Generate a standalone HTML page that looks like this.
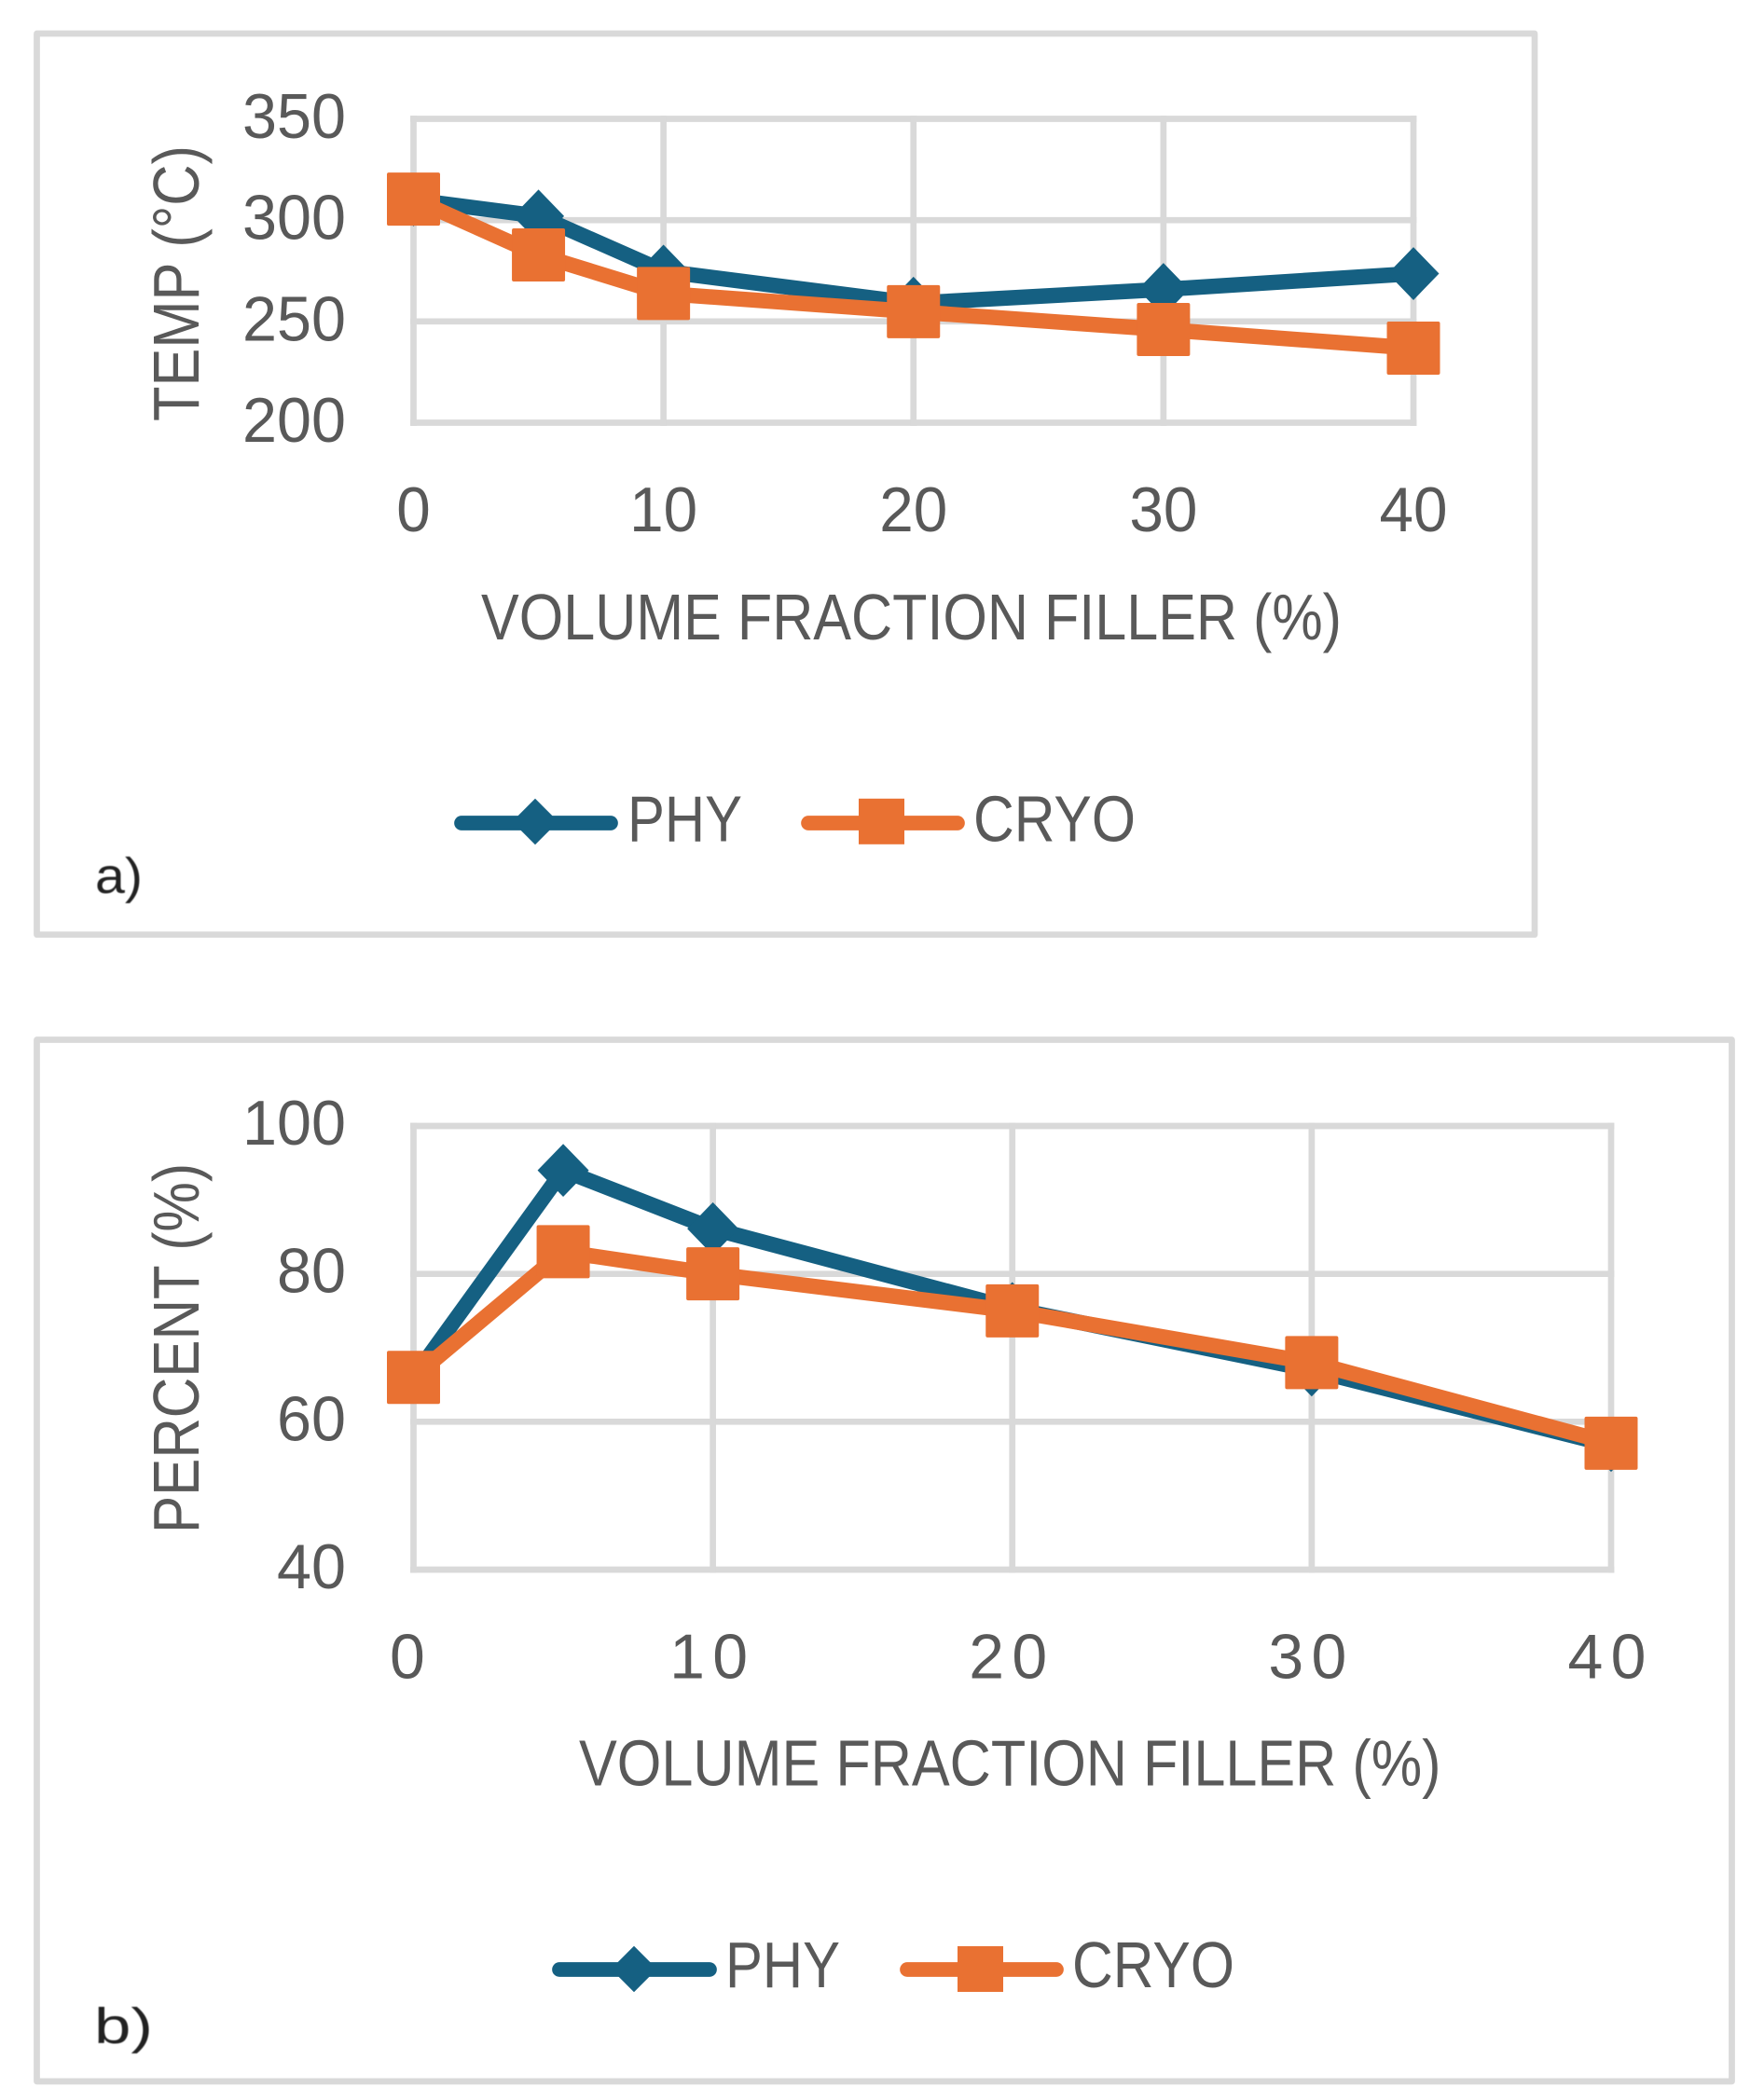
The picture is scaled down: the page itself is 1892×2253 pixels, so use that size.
<!DOCTYPE html>
<html lang="en">
<head>
<meta charset="utf-8">
<title>Temperature and percent versus volume fraction filler</title>
<style>
  html, body { margin: 0; padding: 0; background: #ffffff; }
  svg { display: block; }
  text { font-family: "Liberation Sans", sans-serif; fill: #595959; }
  .tick { font-size: 68px; }
  .axis-title, .legend-label { font-size: 70px; }
  .panel-label { font-size: 54px; fill: #222222; filter: blur(0.6px); }
</style>
</head>
<body>
<svg id="figure" xmlns="http://www.w3.org/2000/svg" width="1892" height="2253" viewBox="0 0 1892 2253">
  <rect x="0" y="0" width="1892" height="2253" fill="#ffffff"/>

  <g id="chart-a">
    <rect x="39.5" y="36" width="1606.5" height="966.7" fill="none" stroke="#d9d9d9" stroke-width="6.7" stroke-linejoin="round"/>
    <g id="chart-a-grid"></g>
    <g id="chart-a-ticks"></g>
    <g id="chart-a-series"></g>
    <text class="axis-title" transform="translate(213,452) rotate(-90)" textLength="296" lengthAdjust="spacingAndGlyphs">TEMP (°C)</text>
    <text class="axis-title" x="516" y="686" textLength="923" lengthAdjust="spacingAndGlyphs">VOLUME FRACTION FILLER (%)</text>
    <g>
      <line x1="495" y1="883" x2="655" y2="883" stroke="#156082" stroke-width="15.7" stroke-linecap="round"/>
      <polygon points="574,856.8 598.7,881.5 574,906.2 549.3,881.5" fill="#156082"/>
      <text class="legend-label" x="673" y="902.7" textLength="123" lengthAdjust="spacingAndGlyphs">PHY</text>
      <line x1="867" y1="883" x2="1027" y2="883" stroke="#e97132" stroke-width="15.7" stroke-linecap="round"/>
      <rect x="921" y="856.8" width="49" height="49" fill="#e97132"/>
      <text class="legend-label" x="1044" y="902.7" textLength="174" lengthAdjust="spacingAndGlyphs">CRYO</text>
    </g>
    <text class="panel-label" x="102" y="958" textLength="51" lengthAdjust="spacingAndGlyphs">a)</text>
  </g>

  <g id="chart-b">
    <rect x="39.5" y="1115.5" width="1818" height="1117.5" fill="none" stroke="#d9d9d9" stroke-width="6.7" stroke-linejoin="round"/>
    <g id="chart-b-grid"></g>
    <g id="chart-b-ticks"></g>
    <g id="chart-b-series"></g>
    <text class="axis-title" transform="translate(213,1645) rotate(-90)" textLength="397" lengthAdjust="spacingAndGlyphs">PERCENT (%)</text>
    <text class="axis-title" x="621" y="1915.5" textLength="924.5" lengthAdjust="spacingAndGlyphs">VOLUME FRACTION FILLER (%)</text>
    <g>
      <line x1="600" y1="2113" x2="761" y2="2113" stroke="#156082" stroke-width="15.7" stroke-linecap="round"/>
      <polygon points="680,2087.8 704.7,2112.5 680,2137.2 655.3,2112.5" fill="#156082"/>
      <text class="legend-label" x="778" y="2132" textLength="123" lengthAdjust="spacingAndGlyphs">PHY</text>
      <line x1="973" y1="2113" x2="1133" y2="2113" stroke="#e97132" stroke-width="15.7" stroke-linecap="round"/>
      <rect x="1027" y="2088" width="49" height="49" fill="#e97132"/>
      <text class="legend-label" x="1150" y="2132" textLength="174" lengthAdjust="spacingAndGlyphs">CRYO</text>
    </g>
    <text class="panel-label" x="101" y="2192" textLength="63" lengthAdjust="spacingAndGlyphs">b)</text>
  </g>
</svg>

<script>
const fillerValues = [0, 5, 10, 20, 30, 40];
const xTickValues = [0, 10, 20, 30, 40];
const tempTicks = [200, 250, 300, 350];
const tempPhy = [310, 302, 274.8, 259, 265.8, 273.6];
const tempCryo = [310.4, 282.8, 263.8, 254.8, 246, 236.8];
const percentTicks = [40, 60, 80, 100];
const percentPhy = [66, 94, 86.1, 75.3, 67, 56.8];
const percentCryo = [66, 83, 80, 75, 68, 57.1];

const SVG_NS = 'http://www.w3.org/2000/svg';
const BLUE = '#156082';
const ORANGE = '#e97132';
const GRID = '#d9d9d9';

function linearScale(d0, d1, r0, r1) {
  return function (v) { return r0 + (v - d0) * (r1 - r0) / (d1 - d0); };
}

function node(tag, attrs, parent) {
  const el = document.createElementNS(SVG_NS, tag);
  Object.keys(attrs).forEach(function (k) { el.setAttribute(k, attrs[k]); });
  parent.appendChild(el);
  return el;
}

function drawGrid(id, xScale, yScale, xTicks, yTicks) {
  const g = document.getElementById(id);
  const yMin = yScale(yTicks[0]);
  const yMax = yScale(yTicks[yTicks.length - 1]);
  const xMin = xScale(xTicks[0]);
  const xMax = xScale(xTicks[xTicks.length - 1]);
  yTicks.forEach(function (t) {
    const line = node('line', { x1: xMin, x2: xMax, y1: yScale(t), y2: yScale(t), stroke: GRID, 'stroke-width': 6.7, 'stroke-linecap': 'square' }, g);
    
    
  });
  xTicks.forEach(function (t) {
    const line = node('line', { x1: xScale(t), x2: xScale(t), y1: yMin, y2: yMax, stroke: GRID, 'stroke-width': 6.7, 'stroke-linecap': 'square' }, g);
    
    
  });
}

function drawTicks(id, xScale, yScale, xTicks, yTicks, o) {
  const g = document.getElementById(id);
  yTicks.forEach(function (t) {
    const label = String(t);
    const w = label.length * o.yCharW;
    const text = node('text', { x: o.yRight - w, y: yScale(t) + o.yDy, textLength: w, lengthAdjust: 'spacingAndGlyphs', class: 'tick' }, g);
    text.textContent = label;
    
    
  });
  xTicks.forEach(function (t) {
    const label = String(t);
    const w = label.length * o.xCharW;
    const text = node('text', { x: xScale(t) + o.xDx - w / 2, y: o.xBase, textLength: w, lengthAdjust: o.xAdjust, class: 'tick' }, g);
    text.textContent = label;
    
    
  });
}

function drawSeries(id, xScale, yScale, xs, ys, color, shape, name) {
  const g = document.getElementById(id);
  const pts = xs.map(function (x, i) { return xScale(x) + ',' + yScale(ys[i]); }).join(' ');
  const line = node('polyline', { points: pts, fill: 'none', stroke: color, 'stroke-width': 16.5, 'stroke-linejoin': 'round' }, g);
  
  
  xs.forEach(function (x, i) {
    const cx = xScale(x);
    const cy = yScale(ys[i]);
    let mark;
    if (shape === 'diamond') {
      const rx = 27.5;
      const ry = 28.4;
      mark = node('polygon', { points: cx + ',' + (cy - ry) + ' ' + (cx + rx) + ',' + cy + ' ' + cx + ',' + (cy + ry) + ' ' + (cx - rx) + ',' + cy, fill: color }, g);
    } else {
      mark = node('rect', { x: cx - 28.5, y: cy - 28.5, width: 57, height: 57, rx: 2, fill: color }, g);
    }
    
    
  });
}

const xA = linearScale(0, 40, 443.5, 1516);
const yA = linearScale(200, 350, 453.5, 127.5);
drawGrid('chart-a-grid', xA, yA, xTickValues, tempTicks);
drawTicks('chart-a-ticks', xA, yA, xTickValues, tempTicks, { yRight: 371, yDy: 20.5, yCharW: 37, xBase: 570, xDx: 0, xCharW: 36.5, xAdjust: 'spacingAndGlyphs' });
drawSeries('chart-a-series', xA, yA, fillerValues, tempPhy, BLUE, 'diamond', 'temp-phy');
drawSeries('chart-a-series', xA, yA, fillerValues, tempCryo, ORANGE, 'square', 'temp-cryo');

const xB = linearScale(0, 40, 443.5, 1728);
const yB = linearScale(40, 100, 1684, 1208);
drawGrid('chart-b-grid', xB, yB, xTickValues, percentTicks);
drawTicks('chart-b-ticks', xB, yB, xTickValues, percentTicks, { yRight: 371, yDy: 20, yCharW: 37, xBase: 1800.5, xDx: -4.5, xCharW: 42, xAdjust: 'spacing' });
drawSeries('chart-b-series', xB, yB, fillerValues, percentPhy, BLUE, 'diamond', 'percent-phy');
drawSeries('chart-b-series', xB, yB, fillerValues, percentCryo, ORANGE, 'square', 'percent-cryo');
</script>
</body>
</html>
